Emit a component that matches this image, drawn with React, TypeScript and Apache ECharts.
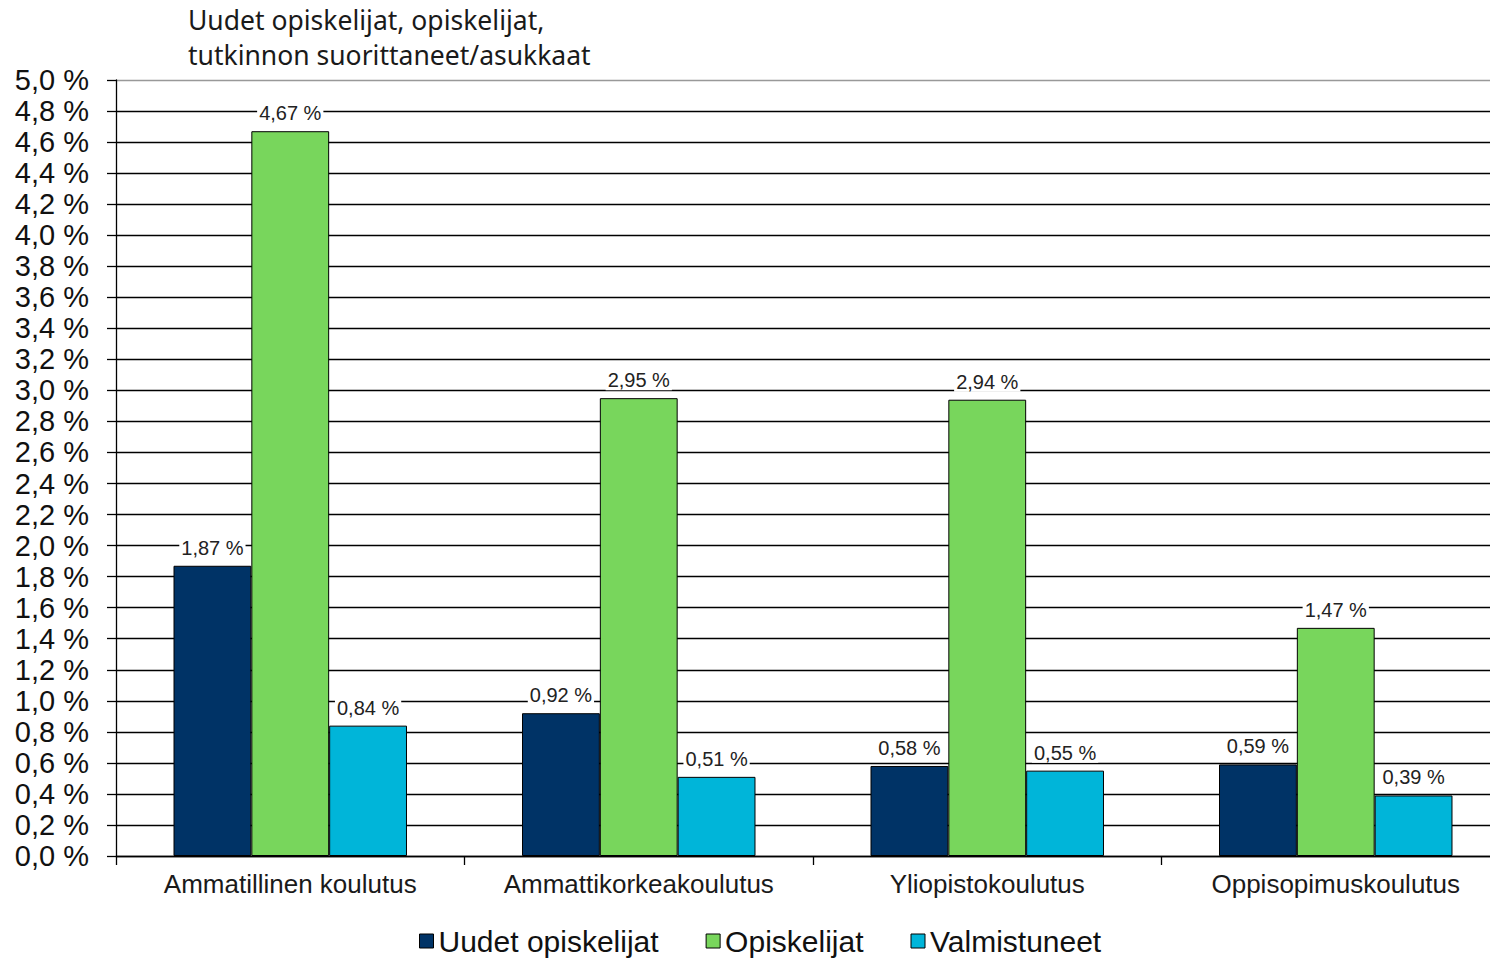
import React, { useEffect, useRef } from "react";
import * as echarts from "echarts";

const categories = ["Ammatillinen koulutus", "Ammattikorkeakoulutus", "Yliopistokoulutus", "Oppisopimuskoulutus"];
const seriesNames = ["Uudet opiskelijat", "Opiskelijat", "Valmistuneet"];
const uudet = [1.87, 0.92, 0.58, 0.59];
const opiskelijat = [4.67, 2.95, 2.94, 1.47];
const valmistuneet = [0.84, 0.51, 0.55, 0.39];
const colors = ["#003366", "#78d65c", "#00b5d9"];
const titleLines = ["Uudet opiskelijat, opiskelijat,", "tutkinnon suorittaneet/asukkaat"];

const fmtPct = (v: number, d: number, sep: string) => v.toFixed(d).replace(".", ",") + sep + "%";

export default function App() {
  const ref = useRef<HTMLDivElement>(null);
  useEffect(() => {
    if (!ref.current) return;
    const chart = echarts.init(ref.current, undefined, { renderer: "svg" });
    const font = "'Liberation Sans', Arial, sans-serif";
    const gridColors: string[] = [];
    for (let i = 0; i < 25; i++) gridColors.push("#000");
    gridColors.push("#999");
    const data = [uudet, opiskelijat, valmistuneet];
    chart.setOption({
      animation: false,
      backgroundColor: "#fff",
      title: {
        text: titleLines.join("\n"),
        left: 183,
        top: -3,
        textStyle: {
          fontFamily: "'Noto Sans', sans-serif",
          fontSize: 26.5,
          fontWeight: "normal",
          color: "#1a1a1a",
          lineHeight: 35,
        },
      },
      legend: {
        left: 414,
        top: 921,
        itemWidth: 14,
        itemHeight: 14,
        itemGap: 47,
        icon: "rect",
        textStyle: { fontFamily: font, fontSize: 30, color: "#111" },
        itemStyle: { borderColor: "#000", borderWidth: 1 },
        data: seriesNames,
      },
      grid: { left: 116, right: 0, top: 80, bottom: 105, containLabel: false },
      xAxis: {
        type: "category",
        data: categories,
        axisLine: { lineStyle: { color: "#000", width: 1.3 } },
        axisTick: { show: true, interval: 0, length: 9, lineStyle: { color: "#000", width: 1.3 } },
        axisLabel: { interval: 0, fontFamily: font, fontSize: 26, color: "#1a1a1a", margin: 15 },
      },
      yAxis: {
        type: "value",
        min: 0,
        max: 5,
        interval: 0.2,
        axisLine: { show: true, lineStyle: { color: "#000", width: 1.3 } },
        axisTick: { show: true, length: 9, lineStyle: { color: "#000", width: 1.3 } },
        splitLine: { show: true, lineStyle: { color: gridColors, width: 1.3 } },
        axisLabel: {
          fontFamily: font,
          fontSize: 29,
          color: "#111",
          margin: 27,
          formatter: (v: number) => fmtPct(v, 1, " "),
        },
      },
      series: seriesNames.map((name, i) => ({
        name,
        type: "bar",
        data: data[i],
        barGap: "0%",
        barCategoryGap: "33%",
        itemStyle: { color: colors[i], borderColor: "#000", borderWidth: 1 },
        label: {
          show: true,
          position: "top",
          distance: 8,
          fontFamily: font,
          fontSize: 20,
          color: "#222",
          backgroundColor: "#fff",
          padding: [0, 2, 0, 2],
          formatter: (p: any) => fmtPct(p.value, 2, " "),
        },
      })),
    });
    return () => chart.dispose();
  }, []);
  return (
    <div style={{ position: "absolute", left: 0, top: 0, width: 1490, height: 961, overflow: "hidden" }}>
      <div ref={ref} style={{ width: 1510, height: 961 }} />
    </div>
  );
}
